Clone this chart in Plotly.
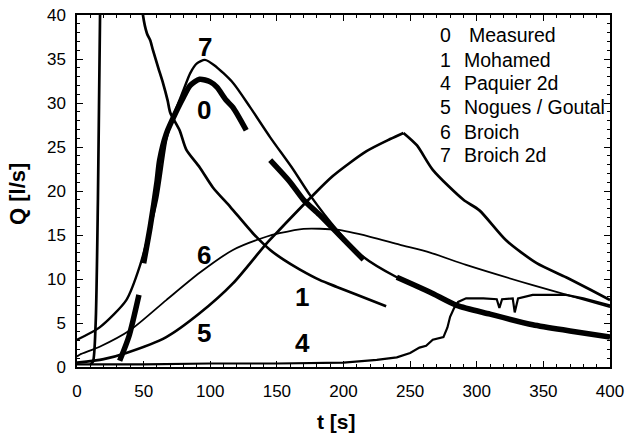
import plotly.graph_objects as go

# ---- data ----
t_mohamed = [10, 12, 14, 15.7, 17.3, 19, None, 47, 49.5, 52.5, 55, 57, 61, 64.5, 68, 70, 77, 82, 92, 102, 115, 132, 145, 155, 167, 182, 195, 210, 232]
q_mohamed = [0.3, 0.6, 5, 19, 40, 55, None, 45, 40, 37.9, 37.1, 36, 34, 32.3, 30.3, 28.9, 26.9, 24.7, 22.7, 20.4, 18.2, 15.2, 13.3, 12.2, 11.1, 9.9, 9.1, 8.2, 6.9]

t_broich2d = [0, 17, 37, 47, 60, 67, 72, 80, 85, 90, 96, 103, 117, 130, 145, 162, 175, 195, 215, 240, 265, 285, 320, 360, 400]
q_broich2d = [3.1, 4.5, 7.6, 11.4, 19, 25.8, 28.4, 31.5, 33.4, 34.5, 34.9, 34.3, 32.3, 29.5, 26.1, 22.5, 19.5, 15.6, 12.5, 10.2, 8.5, 7.1, 5.6, 4.3, 3.4]

t_measured = [32, 39, 46.5, None, 50, 55, 60, 62, 67, 75, 80, 85, 92, 100, 105, 112, 117, 127, None,
              145, 160, 170, 182, 200, 215, None, 240, 265, 285, 310, 342, 370, 400]
q_measured = [0.7, 3.5, 8.2, None, 11.8, 16, 21, 23.5, 26.5, 29.2, 30.7, 32, 32.7, 32.4, 31.8, 30.3, 29.5, 26.9, None,
              23.5, 21, 19, 17.3, 14.5, 12.2, None, 10.2, 8.5, 7.0, 6.0, 4.8, 4.1, 3.4]

t_broich = [0, 2, 17, 40, 67, 92, 117, 142, 152, 170, 195, 220, 242, 265, 292, 342, 400]
q_broich = [1.2, 1.4, 2.3, 4.2, 7.6, 10.7, 13.3, 14.8, 15.2, 15.7, 15.6, 14.8, 13.9, 13.0, 11.6, 9.3, 6.8]

t_nogues = [0, 20, 37, 67, 92, 117, 142, 152, 175, 192, 217, 235, 245, None, 245, 255, 267, 290, 302, 322, 345, 367, 385, 400]
q_nogues = [0.5, 0.9, 1.6, 3.4, 6.1, 9.5, 14.0, 15.6, 19.2, 21.7, 24.5, 25.9, 26.6, None, 26.6, 25.2, 22.4, 19.0, 17.8, 14.4, 11.8, 10.2, 8.8, 7.6]

t_paquier = [0, 50, 100, 150, 200, 225, 240, 250, 257, 262, 267, 275, 278, 280, 283, 286, 292, 305, 315, 317, 319, 327, 328.5, 331, 342, 367, 380, 400]
q_paquier = [0.3, 0.3, 0.4, 0.4, 0.5, 0.8, 1.1, 1.6, 2.2, 2.4, 3.1, 3.4, 4.5, 5.7, 6.7, 7.4, 7.8, 7.8, 7.7, 6.7, 7.7, 7.8, 6.2, 7.8, 8.2, 8.2, 7.8, 7.0]

curve_labels = ["7", "0", "6", "5", "1", "4"]
label_t = [96, 95, 95, 95, 169, 169]
label_q = [36.4, 29.2, 12.7, 3.9, 8.0, 2.7]

legend_ids = ["0", "1", "4", "5", "6", "7"]
legend_names = ["Measured", "Mohamed", "Paquier 2d", "Nogues / Goutal", "Broich", "Broich 2d"]

# ---- figure ----
fig = go.Figure()

def add(t, q, w, shape="spline"):
    fig.add_trace(go.Scatter(x=t, y=q, mode="lines",
                             line=dict(color="black", width=w, shape=shape, smoothing=0.7),
                             connectgaps=False, showlegend=False, hoverinfo="skip"))

add(t_paquier, q_paquier, 2.2, "linear")
add(t_broich, q_broich, 1.8)
add(t_nogues, q_nogues, 2.7)
add(t_mohamed, q_mohamed, 2.7)
add(t_broich2d, q_broich2d, 2.4)
add(t_measured, q_measured, 5.5)

# plot area in pixels
L, R, T, B = 77, 610, 15, 367
W, H = R - L, B - T

def px(x, y):
    return (x - L) / W, (B - y) / H

for lab, tt, qq in zip(curve_labels, label_t, label_q):
    fig.add_annotation(x=tt, y=qq, xref="x", yref="y", text=lab, showarrow=False,
                       font=dict(family="Liberation Sans, Arial", size=26, color="black", weight="bold"),
                       xanchor="center", yanchor="middle")

ys = [35, 60, 83, 107, 132, 155]
for i, (lid, nm) in enumerate(zip(legend_ids, legend_names)):
    xp, yp = px(438, ys[i])
    fig.add_annotation(x=xp, y=yp, xref="paper", yref="paper", text=lid, showarrow=False,
                       font=dict(family="Liberation Sans, Arial", size=19.5, color="black"),
                       xanchor="left", yanchor="middle")
    xn = 467 if i == 0 else 462
    xp2, _ = px(xn, ys[i])
    fig.add_annotation(x=xp2, y=yp, xref="paper", yref="paper", text=nm, showarrow=False,
                       font=dict(family="Liberation Sans, Arial", size=19.5, color="black"),
                       xanchor="left", yanchor="middle")

xp, yp = px(336, 421)
fig.add_annotation(x=xp, y=yp, xref="paper", yref="paper", text="t [s]", showarrow=False,
                   font=dict(family="Liberation Sans, Arial", size=21, color="black", weight="bold"),
                   xanchor="center", yanchor="middle")
xp, yp = px(17, 194)
fig.add_annotation(x=xp, y=yp, xref="paper", yref="paper", text="Q [l/s]", showarrow=False, textangle=-90,
                   font=dict(family="Liberation Sans, Arial", size=22, color="black", weight="bold"),
                   xanchor="center", yanchor="middle")

axis_common = dict(showline=True, linecolor="black", linewidth=1.5, mirror="ticks",
                   ticks="inside", ticklen=6, tickwidth=1.2, tickcolor="black",
                   showgrid=False, zeroline=False, automargin=False,
                   tickfont=dict(family="Liberation Sans, Arial", size=17, color="black"))

fig.update_xaxes(range=[0, 400], dtick=50, tick0=0,
                 minor=dict(dtick=10, ticks="inside", ticklen=3, tickcolor="black"),
                 ticklabelstandoff=8, **axis_common)
fig.update_yaxes(range=[0, 40], dtick=5, tick0=0,
                 minor=dict(dtick=1, ticks="inside", ticklen=3, tickcolor="black"),
                 ticklabelstandoff=6, **axis_common)

fig.update_layout(width=628, height=435, margin=dict(l=L, r=628 - R, t=T, b=435 - B),
                  paper_bgcolor="white", plot_bgcolor="white")

fig.write_html("out.html")
